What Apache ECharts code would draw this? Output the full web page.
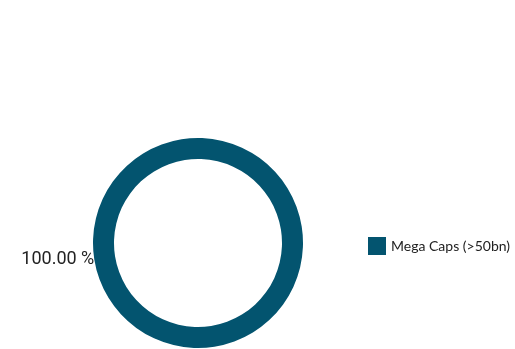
<!DOCTYPE html>
<html>
<head>
<meta charset="utf-8">
<script src="https://cdn.jsdelivr.net/npm/echarts@6/dist/echarts.min.js"></script>
<style>
  html, body { margin: 0; padding: 0; background: #ffffff; }
  #chart { width: 515px; height: 349px; }
</style>
</head>
<body>
<div id="chart"></div>
<script>
// Market-cap breakdown
const categories = ['Mega Caps (>50bn)'];
const shares = [100.0];
const colors = ['#03546f'];

const chart = echarts.init(document.getElementById('chart'));

chart.setOption({
  animation: false,
  color: colors,
  legend: {
    orient: 'vertical',
    left: 363,
    top: 232,
    itemWidth: 18,
    itemHeight: 18,
    itemGap: 8,
    icon: 'rect',
    data: categories,
    textStyle: {
      fontFamily: 'Lato',
      fontSize: 14,
      color: '#222222'
    }
  },
  series: [{
    type: 'pie',
    center: [198, 243],
    radius: [84, 105],
    startAngle: 9,
    clockwise: true,
    avoidLabelOverlap: false,
    label: {
      show: true,
      position: 'outside',
      formatter: p => p.value.toFixed(2) + ' %',
      fontFamily: 'Roboto',
      fontSize: 18,
      color: '#222222',
      distanceToLabelLine: 0
    },
    labelLine: { show: false, length: 0, length2: 0 },
    emphasis: { disabled: true },
    data: categories.map((name, i) => ({ name, value: shares[i] }))
  }]
});
</script>
</body>
</html>
